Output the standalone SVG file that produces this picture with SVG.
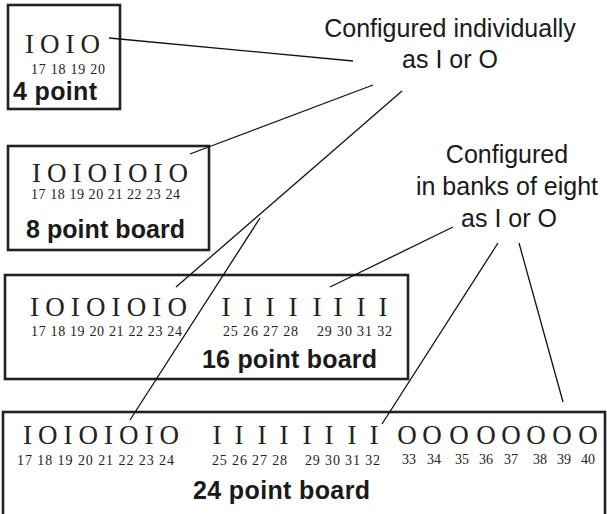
<svg xmlns="http://www.w3.org/2000/svg" width="607" height="514" viewBox="0 0 607 514">
<style>
.box{fill:none;stroke:#222;stroke-width:2.6}
.big{font-family:"Liberation Serif","Times New Roman",serif;font-size:27px;fill:#222}
.num{font-family:"Liberation Serif","Times New Roman",serif;font-size:14px;fill:#222}
.title{font-family:"Liberation Sans",Arial,sans-serif;font-size:25px;font-weight:bold;fill:#1a1a1a}
.lbl{font-family:"Liberation Sans",Arial,sans-serif;font-size:25px;fill:#1a1a1a;text-anchor:middle}
.con line{stroke:#111;stroke-width:1.3}
</style>
<rect width="607" height="514" fill="#fff"/>

<g id="box1">
<rect class="box" x="8" y="5" width="112" height="104"/>
<text class="big" x="25" y="53" textLength="75" lengthAdjust="spacing">I O I O</text>
<text class="num" x="31" y="74" textLength="74" lengthAdjust="spacing">17 18 19 20</text>
<text class="title" x="13" y="100" textLength="84" lengthAdjust="spacing">4 point</text>
</g>

<g id="box2">
<rect class="box" x="8" y="146" width="201" height="104"/>
<text class="big" x="32" y="182" textLength="156" lengthAdjust="spacing">I O I O I O I O</text>
<text class="num" x="31" y="199" textLength="149" lengthAdjust="spacing">17 18 19 20 21 22 23 24</text>
<text class="title" x="26" y="238" textLength="159" lengthAdjust="spacing">8 point board</text>
</g>

<g id="box3">
<rect class="box" x="5" y="275" width="403" height="104"/>
<text class="big" x="30" y="316" textLength="157" lengthAdjust="spacing">I O I O I O I O</text>
<text class="num" x="31" y="336" textLength="151" lengthAdjust="spacing">17 18 19 20 21 22 23 24</text>
<text class="big" x="226 248 270 293 317 338 361 383" y="316" text-anchor="middle">IIIIIIII</text>
<text class="num" x="223" y="336" textLength="75" lengthAdjust="spacing">25 26 27 28</text>
<text class="num" x="317" y="336" textLength="75" lengthAdjust="spacing">29 30 31 32</text>
<text class="title" x="202" y="368" textLength="175" lengthAdjust="spacing">16 point board</text>
</g>

<g id="box4">
<rect class="box" x="3" y="412" width="602" height="112"/>
<text class="big" x="23" y="444" textLength="156" lengthAdjust="spacing">I O I O I O I O</text>
<text class="num" x="17" y="465" textLength="157" lengthAdjust="spacing">17 18 19 20 21 22 23 24</text>
<text class="big" x="217 239 262 284 307 329 352 374" y="444" text-anchor="middle">IIIIIIII</text>
<text class="num" x="212" y="465" textLength="75" lengthAdjust="spacing">25 26 27 28</text>
<text class="num" x="305" y="465" textLength="75" lengthAdjust="spacing">29 30 31 32</text>
<text class="big" x="407 432 459 486 511 536 562 588" y="444" text-anchor="middle" font-size="25">OOOOOOOO</text>
<text class="num" y="464" text-anchor="middle"><tspan x="409">33</tspan><tspan x="434">34</tspan><tspan x="462">35</tspan><tspan x="486">36</tspan><tspan x="511">37</tspan><tspan x="540">38</tspan><tspan x="564">39</tspan><tspan x="588">40</tspan></text>
<text class="title" x="193" y="499" textLength="177" lengthAdjust="spacing">24 point board</text>
</g>

<g id="label-individual">
<text class="lbl" x="450" y="37">Configured individually</text>
<text class="lbl" x="450" y="68">as I or O</text>
</g>

<g id="label-banks">
<text class="lbl" x="507" y="163">Configured</text>
<text class="lbl" x="507" y="195">in banks of eight</text>
<text class="lbl" x="509" y="227">as I or O</text>
</g>

<g id="connectors" class="con">
<line x1="109" y1="38" x2="353" y2="61"/>
<line x1="190" y1="154" x2="373" y2="85"/>
<line x1="176" y1="287" x2="402" y2="91"/>
<line x1="130" y1="420" x2="260" y2="218"/>
<line x1="330" y1="287" x2="453" y2="227"/>
<line x1="382" y1="424" x2="498" y2="243"/>
<line x1="519" y1="243" x2="563" y2="402"/>
</g>
</svg>
